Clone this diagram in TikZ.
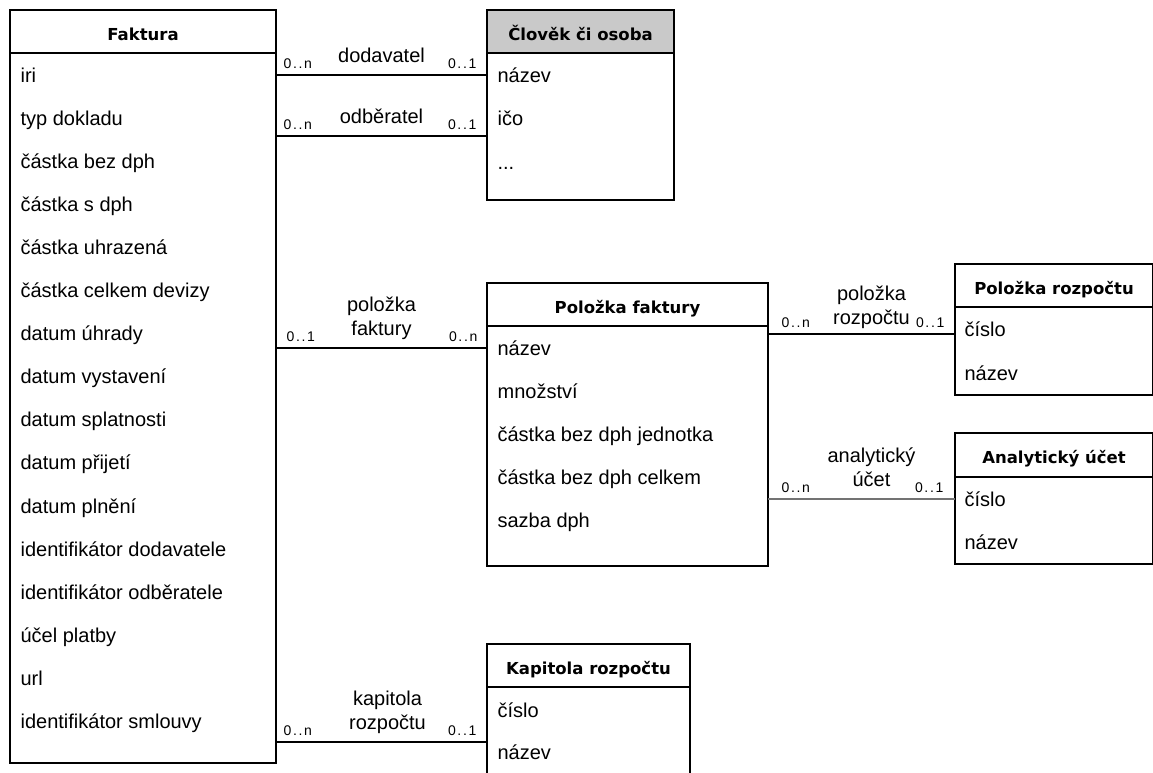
\documentclass[tikz,border=0pt]{standalone}
\usepackage{fontspec}
\setmainfont{Liberation Sans}
\newfontfamily\hlavapismo{DejaVu Sans}
\newfontfamily\nasobpismo[LetterSpace=12]{Liberation Sans}
\usetikzlibrary{positioning}

\begin{document}
\begin{tikzpicture}[x=1pt,y=-1pt,line width=1.2pt,
	hlava/.style={draw,anchor=north west,minimum height=43pt,inner sep=0pt,outer sep=0pt,text height=17pt,text depth=0pt,font=\hlavapismo\bfseries\fontsize{16.5}{19}\selectfont},
	telo/.style={draw,inner sep=0pt,outer sep=0pt},
	atribut/.style={anchor=base west,inner sep=0pt,text height=18pt,text depth=4pt,font=\fontsize{20}{24}\selectfont},
	nasob/.style={inner sep=0pt,font=\nasobpismo\fontsize{14}{16}\selectfont},
	mnozn/.style={nasob,at start,anchor=base west,xshift=7pt,yshift=7pt},
	mnozk/.style={nasob,at end,anchor=base east,xshift=-10pt,yshift=7pt},
	role/.style={midway,anchor=south,align=center,inner sep=0pt,text depth=0pt,yshift=12pt,font=\fontsize{20}{24}\selectfont}]
	\useasboundingbox (0,0) rectangle (1153,772);

	% entity
	\node[hlava,minimum width=266pt] (faktura-h) at (10,10) {Faktura};
	\node[telo,below=0pt of faktura-h,minimum width=266pt,minimum height=710pt] (faktura) {};
	\foreach \a [count=\i] in {iri,typ dokladu,částka bez dph,částka s dph,částka uhrazená,částka celkem devizy,datum úhrady,datum vystavení,datum splatnosti,datum přijetí,datum plnění,identifikátor dodavatele,identifikátor odběratele,účel platby,url,identifikátor smlouvy}
		\node[atribut] (faktura-\i) at (20,{75+43.1*(\i-1)+7}) {\a};

	\node[hlava,minimum width=187pt,fill=black!21] (osoba-h) at (487,10) {Člověk či osoba};
	\node[telo,below=0pt of osoba-h,minimum width=187pt,minimum height=147pt] (osoba) {};
	\foreach \a [count=\i] in {název,ičo}
		\node[atribut] (osoba-\i) at (497,{75+43.5*(\i-1)+7}) {\a};
	\node[atribut] (osoba-3) at (497,169) {...};

	\node[hlava,minimum width=281pt] (polozka-h) at (487,283) {Položka faktury};
	\node[telo,below=0pt of polozka-h,minimum width=281pt,minimum height=240pt] (polozka) {};
	\foreach \a [count=\i] in {název,množství,částka bez dph jednotka,částka bez dph celkem,sazba dph}
		\node[atribut] (polozka-\i) at (497,{348+43*(\i-1)+7}) {\a};

	\node[hlava,minimum width=198pt] (rozpocet-h) at (955,264) {Položka rozpočtu};
	\node[telo,below=0pt of rozpocet-h,minimum width=198pt,minimum height=88pt] (rozpocet) {};
	\foreach \a [count=\i] in {číslo,název}
		\node[atribut] (rozpocet-\i) at (964,{329+44*(\i-1)+7}) {\a};

	\node[hlava,minimum width=198pt,minimum height=44pt] (ucet-h) at (955,433) {Analytický účet};
	\node[telo,below=0pt of ucet-h,minimum width=198pt,minimum height=87pt] (ucet) {};
	\foreach \a [count=\i] in {číslo,název}
		\node[atribut] (ucet-\i) at (964,{499+43*(\i-1)+7}) {\a};

	\node[hlava,minimum width=203pt] (kapitola-h) at (487,644) {Kapitola rozpočtu};
	\node[telo,below=0pt of kapitola-h,minimum width=203pt,minimum height=110pt] (kapitola) {};
	\foreach \a [count=\i] in {číslo,název}
		\node[atribut] (kapitola-\i) at (497,{710+42*(\i-1)+7}) {\a};

	% vazby
	\coordinate (odb) at (0,136);
	\coordinate (roz) at (0,334);
	\coordinate (kap) at (0,742);
	\draw (faktura.east |- osoba-1) -- (osoba.west |- osoba-1)
		node[mnozn]{0..n} node[role]{dodavatel} node[mnozk]{0..1};
	\draw (faktura.east |- odb) -- (osoba.west |- odb)
		node[mnozn]{0..n} node[role]{odběratel} node[mnozk]{0..1};
	\draw (faktura.east |- polozka-1) -- (polozka.west |- polozka-1)
		node[mnozn,xshift=3pt]{0..1} node[role]{položka\\faktury} node[mnozk,xshift=1pt]{0..n};
	\draw (polozka.east |- roz) -- (rozpocet.west |- roz)
		node[mnozn,xshift=6pt]{0..n} node[role,xshift=10pt,yshift=-3pt]{položka\\rozpočtu} node[mnozk]{0..1};
	\draw[black!55] (polozka.east |- ucet-1) -- (ucet.west |- ucet-1)
		node[mnozn,text=black,xshift=6pt]{0..n} node[role,text=black,xshift=10pt]{analytický\\účet} node[mnozk,text=black,xshift=-1pt]{0..1};
	\draw (faktura.east |- kap) -- (kapitola.west |- kap)
		node[mnozn]{0..n} node[role,xshift=6pt]{kapitola\\rozpočtu} node[mnozk]{0..1};
\end{tikzpicture}
\end{document}
